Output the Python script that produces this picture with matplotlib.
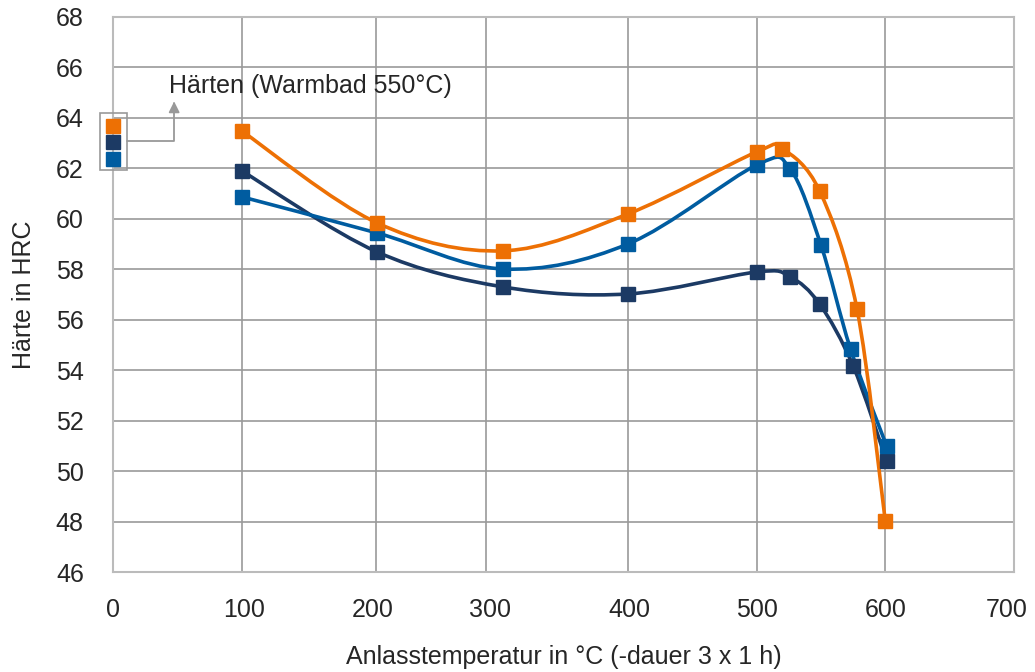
import matplotlib
matplotlib.use("Agg")
import matplotlib.pyplot as plt
from matplotlib.path import Path
from matplotlib.patches import PathPatch, Rectangle

plt.rcParams["font.family"] = ["Liberation Sans", "DejaVu Sans"]

# Härte nach Anlassen, drei Reihen
x_orange = [100, 205, 303, 400, 500, 520, 549, 578, 600]
y_orange = [63.48, 59.84, 58.73, 60.19, 62.65, 62.77, 61.1, 56.43, 48.02]

x_navy = [100, 205, 303, 400, 500, 526, 549, 575, 601]
y_navy = [61.9, 58.69, 57.3, 57.02, 57.89, 57.7, 56.62, 54.17, 50.4]

x_blue = [100, 205, 303, 400, 500, 526, 550, 573, 601]
y_blue = [60.87, 59.44, 58.01, 59.0, 62.13, 61.98, 58.96, 54.84, 51.0]

# gehärteter Zustand (x = 0)
y_start = [63.68, 63.05, 62.37]

x_grid = [100, 204, 290, 400, 500, 600]
x_ticks = [0, 102, 202, 293, 401, 500, 600, 694]
x_labels = ["0", "100", "200", "300", "400", "500", "600", "700"]
y_ticks = list(range(46, 69, 2))

c_orange = "#ED7004"
c_navy = "#1C3A64"
c_blue = "#005CA0"
c_text = "#262626"
fs = 18


def smooth_path(x, y):
    # Excel-artige Glättung als kubische Bezier-Kurven
    verts = [(x[0], y[0])]
    codes = [Path.MOVETO]
    n = len(x)
    for i in range(n - 1):
        xa, ya = (x[i - 1], y[i - 1]) if i > 0 else (x[i], y[i])
        xd, yd = (x[i + 2], y[i + 2]) if i + 2 < n else (x[i + 1], y[i + 1])
        c1 = (x[i] + (x[i + 1] - xa) / 6, y[i] + (y[i + 1] - ya) / 6)
        c2 = (x[i + 1] - (xd - x[i]) / 6, y[i + 1] - (yd - y[i]) / 6)
        verts += [c1, c2, (x[i + 1], y[i + 1])]
        codes += [Path.CURVE4] * 3
    return Path(verts, codes)


fig = plt.figure(figsize=(10.35, 6.72), dpi=100)
ax = fig.add_axes([0.1092, 0.1488, 0.8705, 0.826])

for xs, ys, c in [(x_navy, y_navy, c_navy), (x_blue, y_blue, c_blue), (x_orange, y_orange, c_orange)]:
    ax.add_patch(PathPatch(smooth_path(xs, ys), fill=False, edgecolor=c, lw=2.6, zorder=3))
    ax.plot(xs, ys, ls="none", marker="s", ms=9.5, color=c, zorder=4)

for yv, c in zip(y_start, [c_orange, c_navy, c_blue]):
    ax.plot([0], [yv], ls="none", marker="s", ms=9.5, color=c, zorder=4, clip_on=False)

ax.add_patch(Rectangle((-10, 61.94), 21, 2.26, fill=False, edgecolor="#999999", lw=1.2,
                       clip_on=False, zorder=5))
ax.annotate("", xy=(47.5, 64.65), xytext=(11, 63.07),
            arrowprops=dict(arrowstyle="-|>", connectionstyle="angle,angleA=0,angleB=90,rad=0",
                            color="#999999", lw=1.3, shrinkA=0, shrinkB=0, mutation_scale=16),
            annotation_clip=False)
ax.text(43.5, 65.25, "Härten (Warmbad 550°C)", fontsize=fs, color=c_text,
        ha="left", va="center")

ax.set_xlim(0, 700)
ax.set_ylim(46, 68)
ax.set_xticks(x_ticks)
ax.set_xticklabels(x_labels)
ax.set_yticks(y_ticks)
ax.tick_params(length=0, labelsize=fs, labelcolor=c_text)
ax.tick_params(axis="y", pad=21)
ax.tick_params(axis="x", pad=19)
ax.grid(True, axis="y", color="#9a9a9a", lw=1.2)
for xv in x_grid:
    ax.axvline(xv, color="#9a9a9a", lw=1.2, zorder=0.5)
ax.set_axisbelow(True)
for s in ax.spines.values():
    s.set_color("#bbbbbb")
    s.set_linewidth(1.5)

ax.set_xlabel("Anlasstemperatur in °C (-dauer 3 x 1 h)", fontsize=fs, color=c_text, labelpad=16)
ax.set_ylabel("Härte in HRC", fontsize=fs, color=c_text, labelpad=14)

fig.savefig("out.png", dpi=100)
